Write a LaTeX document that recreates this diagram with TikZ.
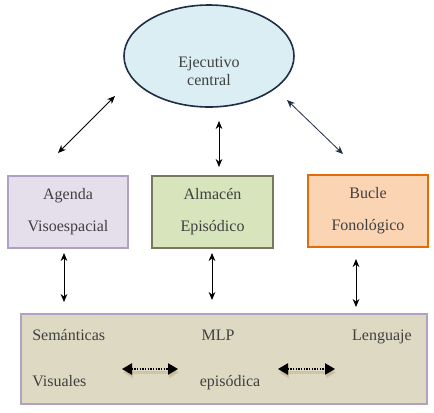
\documentclass[tikz,border=0pt]{standalone}
\usepackage{fontspec}
\setmainfont{Liberation Serif}
\usetikzlibrary{arrows.meta,shapes.geometric}
\definecolor{textgray}{HTML}{404040}
\definecolor{execfill}{HTML}{DAEEF3}
\definecolor{execline}{HTML}{1F2D45}
\definecolor{agendafill}{HTML}{E5DFEC}
\definecolor{agendaline}{HTML}{B2A1C7}
\definecolor{almacenfill}{HTML}{D7E4BC}
\definecolor{almacenline}{HTML}{7A7760}
\definecolor{buclefill}{HTML}{FBD4B4}
\definecolor{bucleline}{HTML}{E36C09}
\definecolor{mlpfill}{HTML}{DDD9C3}
\definecolor{shadowtan}{HTML}{C2AE8E}
\begin{document}
\begin{tikzpicture}[x=0.75pt,y=-0.75pt,
    txt/.style={text=textgray,font=\fontsize{12}{13.5}\selectfont,align=center,inner sep=0pt},
    box/.style={draw,line width=0.8pt,minimum width=90pt,minimum height=54pt,inner sep=0pt,
      align=center,text=textgray,font=\fontsize{12}{24}\selectfont},
    link/.style={{Stealth[length=6pt,width=5pt]}-{Stealth[length=6pt,width=5pt]},line width=0.6pt},
    wide/.style={{Triangle[length=7.5pt,width=8.5pt]}-{Triangle[length=7.5pt,width=8.5pt]},line width=1pt,
      densely dotted,preaction={draw=shadowtan,solid,line width=2pt,opacity=0.5,
      transform canvas={xshift=0.75pt,yshift=-2.5pt}}}]
  \useasboundingbox (0,0) rectangle (434,412);
  % componentes
  \node[draw=execline,fill=execfill,line width=1.2pt,ellipse,minimum width=127.5pt,minimum height=76.5pt]
    (exec) at (209,56) {};
  \node[txt] (execlabel) at (209,71) {Ejecutivo\\central};
  \node[box,draw=agendaline,fill=agendafill] (agenda) at (68,212) {Agenda\\Visoespacial};
  \node[box,draw=almacenline,fill=almacenfill,minimum width=90.75pt] (almacen) at (212.5,212) {Almacén\\Episódico};
  \node[box,draw=bucleline,fill=buclefill] (bucle) at (368,211) {Bucle\\Fonológico};
  \node[draw=agendaline,fill=mlpfill,line width=0.8pt,minimum width=304.5pt,minimum height=67.5pt]
    (mlp) at (224,359) {};
  \draw
    (32,340) node[txt,anchor=base west] (sem){Semánticas}
    (218,340) node[txt,anchor=base] (mlptitle){MLP}
    (412,340) node[txt,anchor=base east] (leng){Lenguaje}
    (32,386) node[txt,anchor=base west] (vis){Visuales}
    (230,386) node[txt,anchor=base] (epi){episódica};
  % extremos de las flechas
  \coordinate (a1) at (115,96);  \coordinate (a2) at (58,153);
  \coordinate (b1) at (219,121); \coordinate (b2) at (219,167);
  \coordinate (c1) at (287,100); \coordinate (c2) at (343,154);
  \coordinate (d1) at (64,253);  \coordinate (d2) at (64,302);
  \coordinate (e1) at (212,253); \coordinate (e2) at (212,300);
  \coordinate (f1) at (356,259); \coordinate (f2) at (356,307);
  \coordinate (g1) at (122,369); \coordinate (g2) at (178,369);
  \coordinate (h1) at (278,369); \coordinate (h2) at (335,369);
  \begin{scope}[link]
    \draw (a1) to (a2);
    \draw (b1) to (b2);
    \draw[execline] (c1) to (c2);
    \draw (d1) to (d2);
    \draw (e1) to (e2);
    \draw (f1) to (f2);
  \end{scope}
  \draw[wide] (g1) to (g2);
  \draw[wide] (h1) to (h2);
\end{tikzpicture}
\end{document}
